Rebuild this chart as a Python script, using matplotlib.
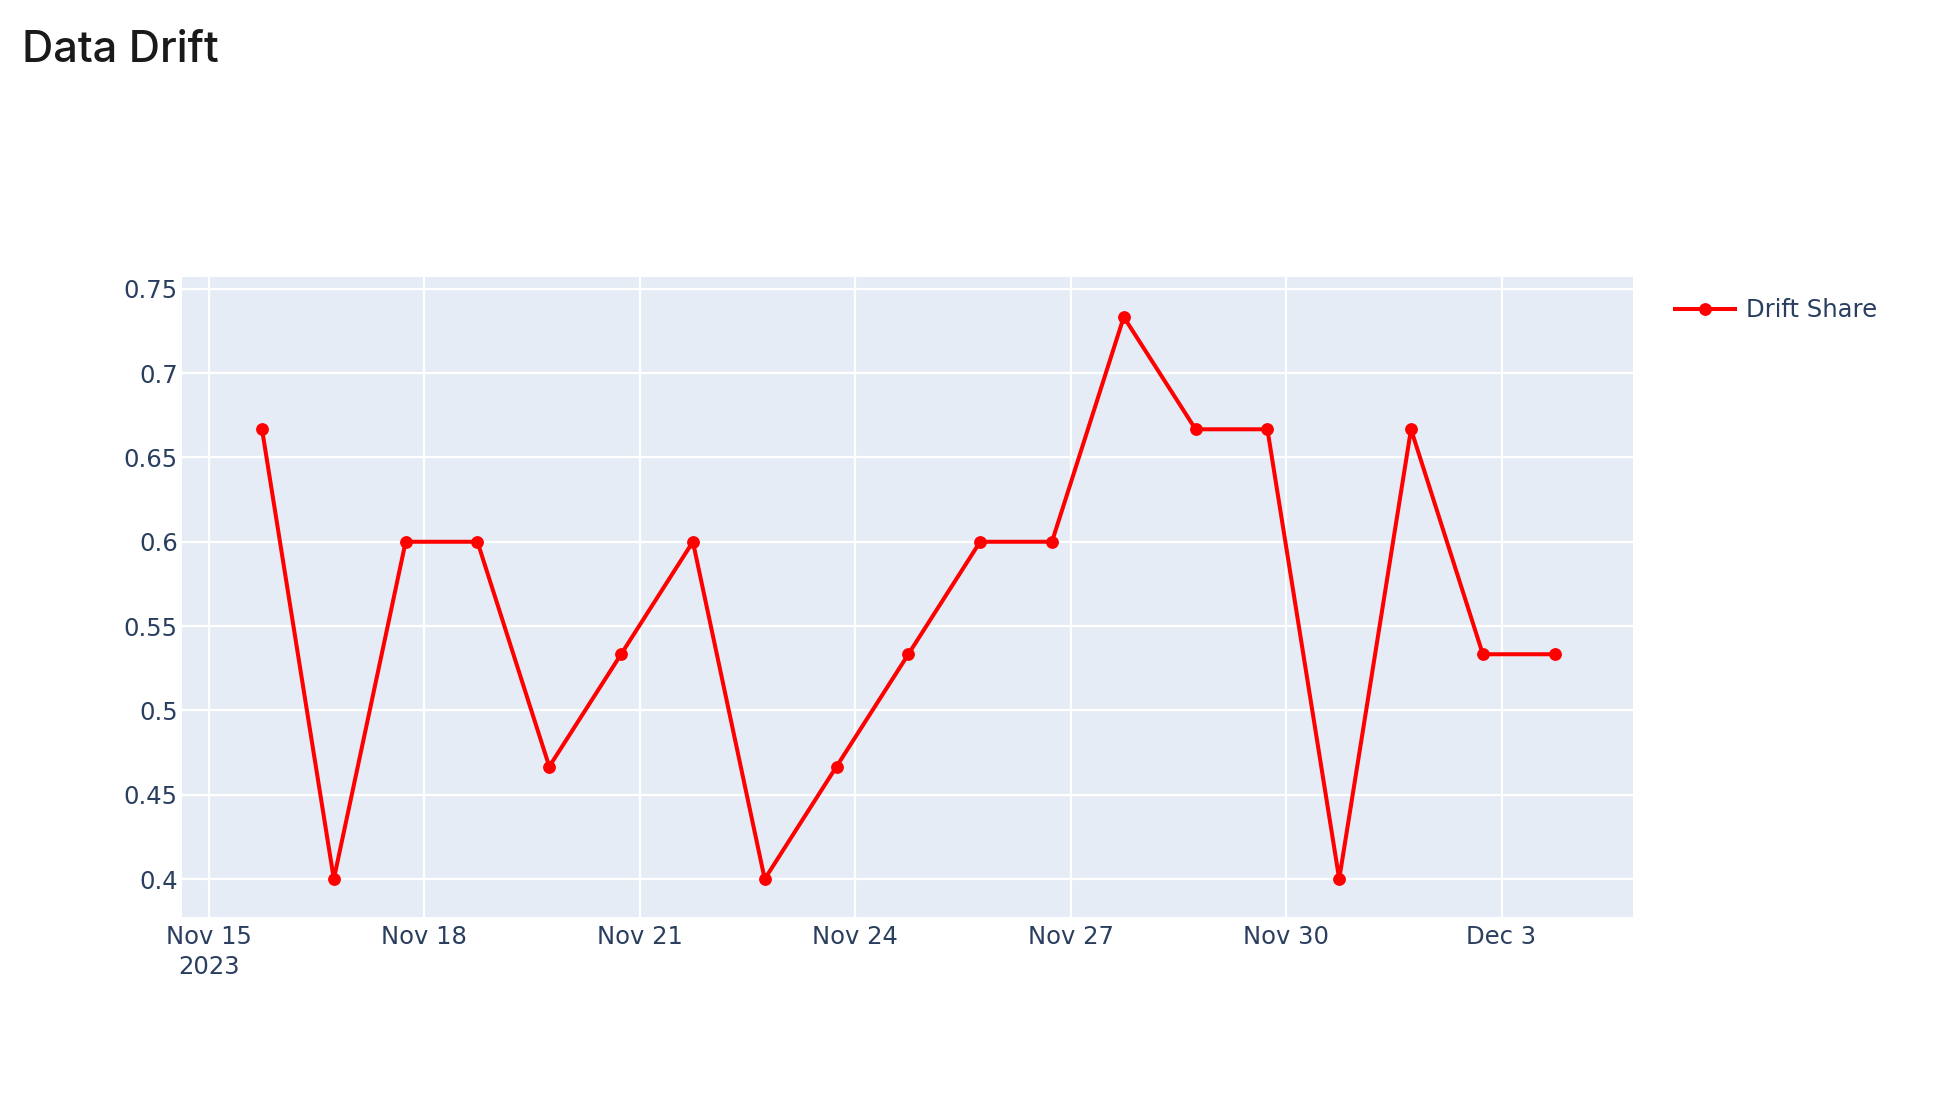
import numpy as np
import pandas as pd
import matplotlib
matplotlib.use("Agg")
import matplotlib.pyplot as plt
import matplotlib.dates as mdates

# data
dates = pd.date_range("2023-11-15 17:45", periods=19, freq="D")
drift_share = [0.6667, 0.4, 0.6, 0.6, 0.4667, 0.5333, 0.6, 0.4, 0.4667, 0.5333,
               0.6, 0.6, 0.7333, 0.6667, 0.6667, 0.4, 0.6667, 0.5333, 0.5333]
y_ticks = [0.4, 0.45, 0.5, 0.55, 0.6, 0.65, 0.7, 0.75]
y_tick_labels = ["0.4", "0.45", "0.5", "0.55", "0.6", "0.65", "0.7", "0.75"]
x_ticks = pd.date_range("2023-11-15", "2023-12-03", freq="3D")
x_tick_labels = ["Nov 15\n2023", "Nov 18", "Nov 21", "Nov 24", "Nov 27", "Nov 30", "Dec 3"]

txt = "#2a3f5f"

fig = plt.figure(figsize=(19.38, 11.08), dpi=100)
ax = fig.add_axes([0.0939, 0.1724, 0.8426 - 0.0939, 0.75 - 0.1724])
ax.set_facecolor("#E5ECF6")
for s in ax.spines.values():
    s.set_visible(False)

ax.plot(dates, drift_share, color="#FF0000", lw=2.9, marker="o", ms=8.2,
        label="Drift Share", zorder=3)

ax.set_xlim(pd.Timestamp("2023-11-15") - pd.Timedelta(hours=9),
            pd.Timestamp("2023-11-15") + pd.Timedelta(hours=19.83 * 24))
ax.set_ylim(0.3775, 0.757)
ax.set_yticks(y_ticks)
ax.set_yticklabels(y_tick_labels)
ax.set_xticks(x_ticks)
ax.set_xticklabels(x_tick_labels, linespacing=1.3)
ax.tick_params(axis="both", length=0, labelsize=17.5, labelcolor=txt)
ax.tick_params(axis="y", pad=3)
ax.tick_params(axis="x", pad=6)
ax.grid(True, color="white", lw=1.6)
ax.set_axisbelow(True)

fig.text(0.0114, 0.954, "Data Drift", fontsize=31.2, family="Inter", color="#1a1a1a",
         va="center", ha="left", fontweight="medium")

leg = ax.legend(loc="upper left", bbox_to_anchor=(1.022, 0.982), frameon=False,
                fontsize=17.5, handlelength=2.5, handletextpad=0.45, borderaxespad=0)
for t in leg.get_texts():
    t.set_color(txt)

fig.savefig("out.png", dpi=100)
